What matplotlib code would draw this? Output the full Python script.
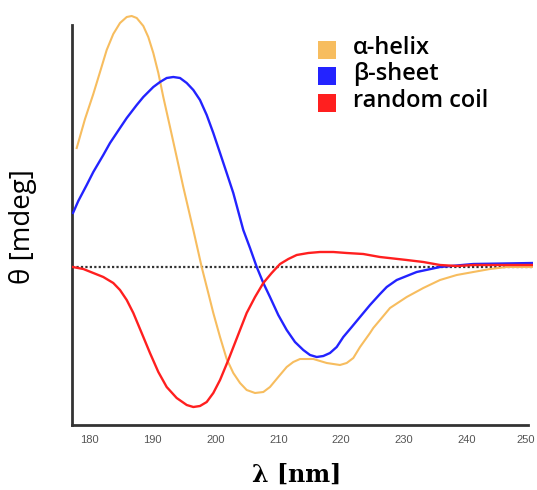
import matplotlib.pyplot as plt
from matplotlib.patches import Rectangle
from matplotlib.transforms import ScaledTranslation

# Espectros de dicroísmo circular (unidades arbitrarias)
nm_helix = [177.91, 179.23, 180.55, 181.62, 182.68, 183.73, 184.80, 185.87, 186.66,
            187.46, 188.51, 189.30, 190.10, 190.90, 191.69, 192.76, 193.82, 194.87,
            196.47, 197.80, 198.85, 199.65, 200.72, 201.78, 202.83, 203.90, 204.96,
            206.29, 207.61, 208.67, 209.99, 211.33, 212.38, 213.45, 215.57, 217.70,
            219.81, 220.88, 221.93, 223.00, 224.59, 225.11, 226.18, 227.77, 230.43,
            233.07, 235.73, 238.39, 241.03, 243.69, 246.35, 250.58]
theta_helix = [119, 148, 173, 195, 217, 233, 244, 250, 251,
               249, 241, 230, 214, 194, 170, 140, 110, 80,
               37, 0, -26, -46, -70, -92, -106, -116, -123,
               -126, -125, -120, -110, -100, -95, -92, -92, -96,
               -98, -96, -91, -80, -66, -61, -53, -41, -30,
               -21, -13, -8, -5, -2, 0, 0]

nm_sheet = [177.32, 178.16, 179.50, 180.55, 182.14, 183.21, 184.80, 185.87, 187.46,
            188.51, 190.10, 191.17, 192.23, 193.28, 194.35, 195.42, 196.47, 197.53,
            198.60, 199.65, 200.72, 201.78, 202.83, 204.42, 205.49, 206.56, 207.61,
            208.67, 209.99, 211.33, 212.65, 213.97, 215.04, 216.11, 217.16, 218.22,
            219.29, 220.34, 221.68, 223.00, 224.59, 226.18, 227.25, 228.84, 232.02,
            235.73, 241.03, 250.58]
theta_sheet = [54, 66, 82, 95, 112, 124, 139, 149, 162,
               170, 180, 185, 189, 190, 189, 184, 177, 167,
               152, 134, 114, 94, 74, 37, 19, 0, -16,
               -30, -48, -63, -75, -83, -88, -90, -89, -86,
               -80, -70, -60, -50, -38, -27, -20, -13, -5,
               0, 3, 4]

nm_coil = [177.27, 178.96, 180.55, 182.14, 183.73, 184.80, 185.87, 186.92, 188.25,
           189.57, 190.90, 192.23, 193.82, 195.42, 196.47, 197.53, 198.60, 199.65,
           200.72, 202.04, 203.90, 204.96, 206.29, 207.61, 208.94, 210.27, 211.59,
           212.92, 214.77, 216.63, 218.75, 220.88, 223.52, 226.18, 230.43, 233.07,
           235.73, 238.39, 241.03, 250.58]
theta_coil = [0, -2, -6, -10, -16, -23, -33, -46, -66,
              -86, -105, -120, -131, -138, -140, -139, -135, -126,
              -113, -93, -63, -46, -30, -16, -6, 3, 8,
              12, 14, 15, 15, 14, 13, 10, 7, 5,
              2, 1, 2, 2]

xticks = [180, 190, 200, 210, 220, 230, 240, 250]

labels = ['α-helix', 'β-sheet', 'random coil']
c_helix = '#F7BD5F'
c_sheet = '#2323FF'
c_coil = '#FF1F1F'
colors = [c_helix, c_sheet, c_coil]

fig = plt.figure(figsize=(5.37, 4.9), dpi=100)
ax = fig.add_axes([72 / 537, 65 / 490, 461 / 537, 415 / 490])

ax.plot(nm_helix, theta_helix, color=c_helix, lw=1.5, zorder=3)
ax.plot(nm_sheet, theta_sheet, color=c_sheet, lw=1.7, zorder=3)
ax.plot(nm_coil, theta_coil, color=c_coil, lw=1.7, zorder=3)
ax.axhline(0, color='#333333', lw=1.6, ls=(0, (1, 1)), zorder=2)

ax.set_xlim(177.16, 250.53)
ax.set_ylim(-158, 257)
ax.spines['top'].set_visible(False)
ax.spines['right'].set_visible(False)
ax.spines['left'].set_bounds(-158, 242)
ax.spines['bottom'].set_bounds(177.16, 249.8)
for s in ['left', 'bottom']:
    ax.spines[s].set_linewidth(2)
    ax.spines[s].set_color('#333333')

ax.set_yticks([])
ax.set_xticks(xticks)
ax.tick_params(axis='x', length=0, pad=7, labelsize=8, labelcolor='#555555')
for lab in ax.get_xticklabels():
    lab.set_family('Liberation Sans')
# el "250" queda pegado al borde, se corre un poco
last = ax.get_xticklabels()[-1]
last.set_transform(last.get_transform() + ScaledTranslation(-3 / 72, 0, fig.dpi_scale_trans))

fig.text(297 / 537, 1 - 475 / 490, 'λ [nm]', ha='center', va='center',
         fontsize=17, fontweight='bold', family='DejaVu Serif')
fig.text(23 / 537, 1 - 227 / 490, 'θ [mdeg]', ha='center', va='center',
         rotation=90, fontsize=20, family='Open Sans')

# leyenda dibujada a mano (cuadros + texto)
for i, (lab, c) in enumerate(zip(labels, colors)):
    yc = 50 + 26.5 * i
    fig.add_artist(Rectangle((318 / 537, 1 - (yc + 9) / 490), 18 / 537, 18 / 490,
                             transform=fig.transFigure, color=c, lw=0))
    fig.text(353 / 537, 1 - (yc - 2) / 490, lab, ha='left', va='center',
             fontsize=17, fontweight='semibold', family='Open Sans')

fig.savefig('out.png', dpi=100)
